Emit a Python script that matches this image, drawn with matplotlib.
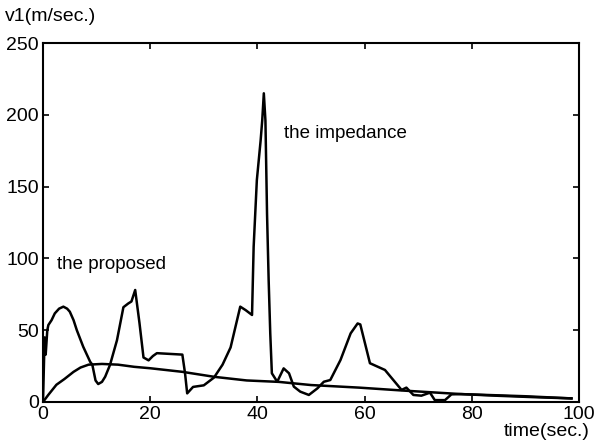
import numpy as np
import matplotlib
matplotlib.use('Agg')
import matplotlib.pyplot as plt

plt.rcParams['font.family'] = ['Liberation Sans', 'DejaVu Sans']

# impedance control curve
t_imp = [0, 0.3, 0.5, 0.8, 1.0, 1.6, 2.2, 3.0, 3.8, 4.5, 5.0, 5.7, 6.3, 7.5,
         8.8, 9.2, 9.8, 10.3, 11.0, 11.6, 12.5, 13.8, 15.0, 15.9, 16.5, 17.2,
         18.0, 18.75, 19.7, 20.5, 21.25, 26.0, 26.5, 26.9, 28.0, 30.0, 31.9,
         33.5, 35.0, 36.8, 37.8, 39.0, 39.3, 39.9, 40.6, 40.9, 41.2, 41.5,
         41.8, 42.1, 42.4, 42.7, 43.7, 44.9, 45.9, 46.8, 48.0, 49.6, 51.2,
         52.4, 53.6, 55.5, 57.4, 58.7, 59.2, 61.0, 63.8, 66.9, 67.8, 69.1,
         70.6, 72.2, 73.1, 75.0, 76.2, 78.0, 85.0, 92.0, 98.6]
v_imp = [0, 45, 33, 50, 53.6, 57, 61.7, 65, 66.4, 65, 62.9, 57, 50.1, 38.5,
         28, 26, 15, 12.5, 14, 17.6, 25.8, 43, 66, 68.6, 70, 78,
         55, 31, 29, 32, 34, 33, 20, 6, 10.5, 11.6, 17,
         26, 38, 66.4, 64, 60.6, 108, 154.6, 182, 196, 215, 196,
         131, 85, 47.8, 20, 14.1, 23.4, 20, 10.7, 7.2, 4.9, 9.5,
         14.1, 15.3, 29.2, 47.8, 54.7, 54, 27, 22.3, 8.4, 10, 4.9,
         4.4, 6.5, 1.3, 1.3, 5.3, 5.5, 4.3, 3.3, 2.5]

# proposed controller curve
t_pro = [0, 1, 2.5, 4, 5.7, 7, 8.5, 11, 14, 17, 20, 26, 32, 38, 44, 50, 59,
         67, 78, 90, 98.6]
v_pro = [0, 5, 12, 16, 21, 24, 26, 26.5, 26, 24.5, 23.5, 21, 17.5, 15, 14,
         11.8, 10, 8, 5.5, 4, 2.5]

fig = plt.figure(figsize=(5.94, 4.47), dpi=100)
ax = fig.add_axes([0.0724, 0.1007, 0.9023, 0.803])

ax.plot(t_imp, v_imp, color='black', lw=1.8)
ax.plot(t_pro, v_pro, color='black', lw=1.8)

ax.set_xlim(0, 100)
ax.set_ylim(0, 250)
ax.set_xticks(range(0, 101, 20))
ax.set_yticks(range(0, 251, 50))
ax.tick_params(direction='in', top=True, right=True, length=4, width=1.2,
               labelsize=14, pad=3)
for s in ax.spines.values():
    s.set_linewidth(1.5)

ax.text(2.6, 96, 'the proposed', fontsize=13.5, va='center', ha='left')
ax.text(44.9, 187, 'the impedance', fontsize=13.5, va='center', ha='left')

fig.text(0.008, 0.962, 'v1(m/sec.)', fontsize=14, va='center', ha='left')
fig.text(0.993, 0.034, 'time(sec.)', fontsize=14, va='center', ha='right')

fig.savefig('out.png', dpi=100)
